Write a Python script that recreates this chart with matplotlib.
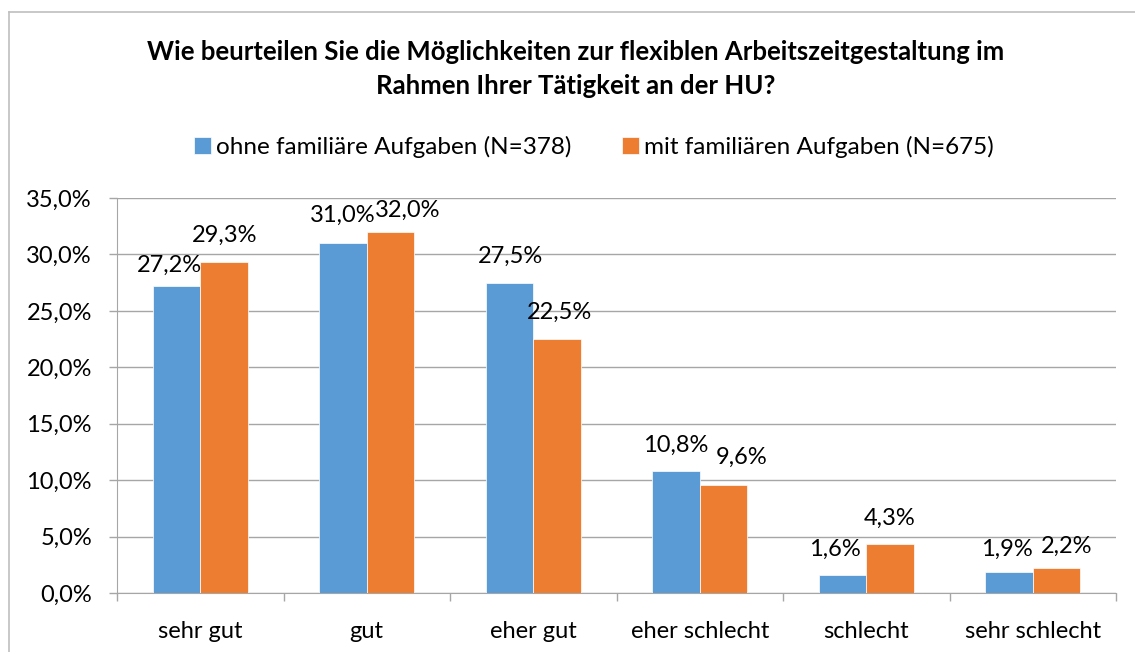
import numpy as np
import matplotlib
matplotlib.use("Agg")
import matplotlib.pyplot as plt
from matplotlib.lines import Line2D

plt.rcParams['font.family'] = ['Lato', 'DejaVu Sans']

# data
categories = ['sehr gut', 'gut', 'eher gut', 'eher schlecht', 'schlecht', 'sehr schlecht']
ohne = [27.2, 31.0, 27.5, 10.8, 1.6, 1.9]
mit = [29.3, 32.0, 22.5, 9.6, 4.3, 2.2]
series_names = ['ohne familiäre Aufgaben (N=378)', 'mit familiären Aufgaben (N=675)']
title = 'Wie beurteilen Sie die Möglichkeiten zur flexiblen Arbeitszeitgestaltung im\nRahmen Ihrer Tätigkeit an der HU?'

# label nudges in pixels (Excel moved some labels sideways to avoid overlap)
dx_ohne = [-7, 0, 1, 0, -8, -2]
dx_mit = [1, 17, 3, 18, 0, 10]
dy_ohne = [14, 21, 20, 19, 19, 16]
dy_mit = [20, 15, 20, 21, 20, 15]

blue = '#5B9BD5'
orange = '#ED7D31'
grid_c = '#A6A6A6'
fs = 17

fig = plt.figure(figsize=(11.35, 6.52), dpi=100)
ax = fig.add_axes([117/1135, 1-593/652, (1116-117)/1135, (593-198)/652])

x = np.arange(len(categories))
w = 0.285
b1 = ax.bar(x - w/2, ohne, w, color=blue, edgecolor='white', linewidth=0.5, label=series_names[0], zorder=3)
b2 = ax.bar(x + w/2, mit, w, color=orange, edgecolor='white', linewidth=0.5, label=series_names[1], zorder=3)

def fmt(v):
    return f'{v:.1f}%'.replace('.', ',')

px = 72 / 100
for bars, vals, dxs, dys in ((b1, ohne, dx_ohne, dy_ohne), (b2, mit, dx_mit, dy_mit)):
    for r, v, dx, dy in zip(bars, vals, dxs, dys):
        ax.annotate(fmt(v), (r.get_x() + r.get_width()/2, v), xytext=(dx*px, dy*px),
                    textcoords='offset points', ha='center', va='baseline', fontsize=fs)

ax.set_xlim(-0.5, len(categories) - 0.5)
ax.set_ylim(0, 35)
ax.set_yticks(np.arange(0, 35.1, 5))
ax.set_yticklabels([fmt(v) for v in np.arange(0, 35.1, 5)], fontsize=fs)
ax.yaxis.grid(True, color=grid_c, linewidth=1, zorder=0)
ax.set_xticks(x)
ax.set_xticklabels(categories, fontsize=fs)
ax.set_xticks(np.arange(-0.5, len(categories)), minor=True)
ax.tick_params(axis='x', which='major', length=0, pad=20)
ax.tick_params(axis='x', which='minor', length=6, color=grid_c, width=1)
ax.tick_params(axis='y', length=6, color=grid_c, width=1, pad=12)

for s in ('top', 'right'):
    ax.spines[s].set_visible(False)
ax.spines['left'].set_color(grid_c)
ax.spines['bottom'].set_color(grid_c)

fig.text(0.507, 1-69/652, title, ha='center', va='center', fontsize=18.5,
         fontweight='bold', linespacing=1.45)

fig.legend(handles=[b1, b2], loc='center', bbox_to_anchor=(0.523, 1-147/652), ncol=2,
           frameon=False, fontsize=17.5, handlelength=0.7, handleheight=0.7,
           handletextpad=0.2, columnspacing=2.1)

# chart border (only top and left visible in the crop)
fig.add_artist(Line2D([9/1135, 9/1135], [0, 1-12/652], color='#BFBFBF', linewidth=1.2, transform=fig.transFigure))
fig.add_artist(Line2D([9/1135, 1], [1-12/652, 1-12/652], color='#BFBFBF', linewidth=1.2, transform=fig.transFigure))

fig.savefig('out.png', dpi=100)
